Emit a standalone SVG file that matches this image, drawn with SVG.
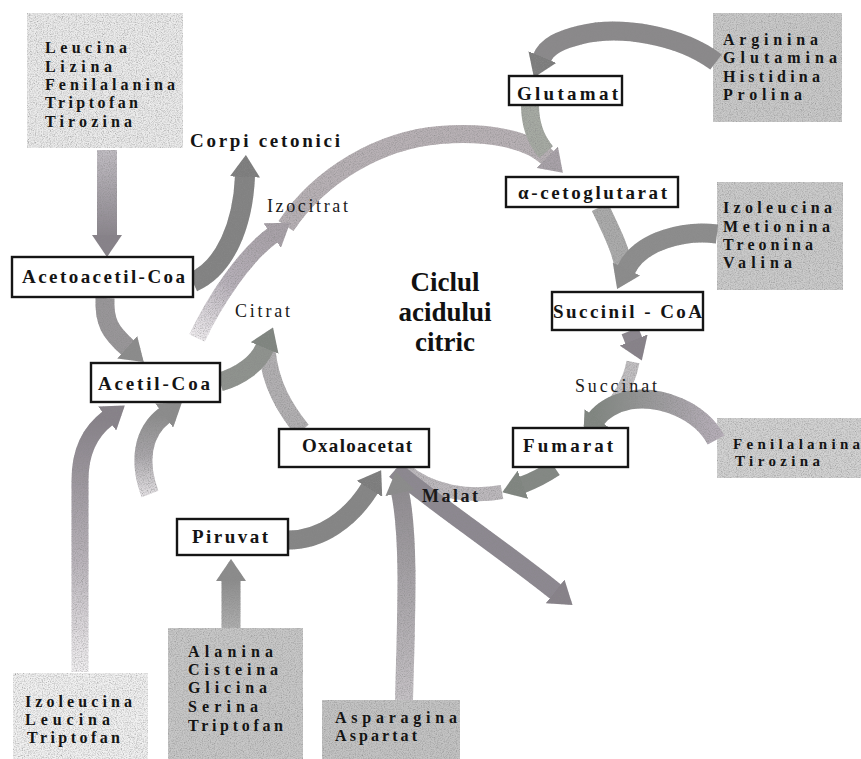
<svg xmlns="http://www.w3.org/2000/svg" width="861" height="759" viewBox="0 0 861 759">
  <style>
    .node rect { fill: #ffffff; stroke: #151515; stroke-width: 2.4; }
    .lbl { font-family: "Liberation Serif", "Times New Roman", serif; font-weight: bold; font-size: 19px; fill: #141414; }
    .lst { font-family: "Liberation Serif", "Times New Roman", serif; font-weight: bold; font-size: 16px; fill: #141414; }
    .lst-sm { font-size: 15px; }
    .stage { font-family: "Liberation Serif", "Times New Roman", serif; font-size: 18px; fill: #1a1a1a; }
    .title { font-family: "Liberation Serif", "Times New Roman", serif; font-weight: bold; font-size: 27px; fill: #111111; text-anchor: middle; }
    .band { fill: none; stroke-linecap: butt; stroke-linejoin: round; }
  </style>
  <defs>
    <!-- halftone-like speckle used on the shaded shapes -->
    <filter id="grain" x="-5%" y="-5%" width="110%" height="110%">
      <feTurbulence type="fractalNoise" baseFrequency="0.85" numOctaves="2" seed="7" result="noise"/>
      <feColorMatrix in="noise" type="matrix" values="0 0 0 0 0.25  0 0 0 0 0.25  0 0 0 0 0.25  0.9 0.9 0.9 0 -1.2" result="spots"/>
      <feComposite in="spots" in2="SourceAlpha" operator="in" result="clipped"/>
      <feMerge><feMergeNode in="SourceGraphic"/><feMergeNode in="clipped"/></feMerge>
    </filter>

    <!-- arrowheads: path ends at the head base, head extends 22px -->
    <marker id="hDark" viewBox="0 0 22 30" refX="1" refY="15" markerWidth="22" markerHeight="30" markerUnits="userSpaceOnUse" orient="auto"><path d="M0,0 L22,15 L0,30 Z" fill="#7b7b7b"/></marker>
    <marker id="hMid" viewBox="0 0 22 30" refX="1" refY="15" markerWidth="22" markerHeight="30" markerUnits="userSpaceOnUse" orient="auto"><path d="M0,0 L22,15 L0,30 Z" fill="#8c8c8c"/></marker>
    <marker id="hPurple" viewBox="0 0 22 30" refX="1" refY="15" markerWidth="22" markerHeight="30" markerUnits="userSpaceOnUse" orient="auto"><path d="M0,0 L22,15 L0,30 Z" fill="#878189"/></marker>
    <marker id="hGreen" viewBox="0 0 22 30" refX="1" refY="15" markerWidth="22" markerHeight="30" markerUnits="userSpaceOnUse" orient="auto"><path d="M0,0 L22,15 L0,30 Z" fill="#7f857f"/></marker>
    <marker id="hLight" viewBox="0 0 22 30" refX="1" refY="15" markerWidth="22" markerHeight="30" markerUnits="userSpaceOnUse" orient="auto"><path d="M0,0 L22,15 L0,30 Z" fill="#a9a2a9"/></marker>

    <linearGradient id="gLeuc" gradientUnits="userSpaceOnUse" x1="0" y1="150" x2="0" y2="240"><stop offset="0" stop-color="#c2bec4"/><stop offset="1" stop-color="#878189"/></linearGradient>
    <linearGradient id="gIzoL" gradientUnits="userSpaceOnUse" x1="0" y1="672" x2="0" y2="420"><stop offset="0" stop-color="#f3f1f3"/><stop offset="0.45" stop-color="#b9b3ba"/><stop offset="1" stop-color="#878189"/></linearGradient>
    <linearGradient id="gPir" gradientUnits="userSpaceOnUse" x1="0" y1="495" x2="0" y2="415"><stop offset="0" stop-color="#e4e1e4"/><stop offset="0.5" stop-color="#a9a6aa"/><stop offset="1" stop-color="#8c8c8c"/></linearGradient>
    <linearGradient id="gAla" gradientUnits="userSpaceOnUse" x1="0" y1="628" x2="0" y2="580"><stop offset="0" stop-color="#b0b0b0"/><stop offset="1" stop-color="#8c8c8c"/></linearGradient>
    <linearGradient id="gCit" gradientUnits="userSpaceOnUse" x1="197" y1="338" x2="272" y2="236"><stop offset="0" stop-color="#efecef"/><stop offset="0.5" stop-color="#b8b1ba"/><stop offset="1" stop-color="#a9a2a9"/></linearGradient>
    <linearGradient id="gAsp" gradientUnits="userSpaceOnUse" x1="0" y1="700" x2="0" y2="490"><stop offset="0" stop-color="#c6c2c6"/><stop offset="1" stop-color="#8f8b90"/></linearGradient>
    <linearGradient id="gFen" gradientUnits="userSpaceOnUse" x1="716" y1="0" x2="594" y2="0"><stop offset="0" stop-color="#b6aeb8"/><stop offset="1" stop-color="#7f857f"/></linearGradient>
  </defs>

  <rect x="0" y="0" width="861" height="759" fill="#ffffff"/>

  <!-- shaded source panels (amino acid groups) -->
  <g id="sources" filter="url(#grain)">
    <rect id="src-leucina" x="27" y="13" width="156" height="135" fill="#ebebeb"/>
    <rect id="src-arginina" x="713" y="13" width="129" height="109" fill="#c9c9c9"/>
    <rect id="src-izoleucina-r" x="717" y="182" width="126" height="108" fill="#cbcbcb"/>
    <rect id="src-fenilalanina" x="717" y="418" width="144" height="60" fill="#d2d2d2"/>
    <rect id="src-izoleucina-l" x="13" y="673" width="135" height="86" fill="#f1f1f1"/>
    <rect id="src-alanina" x="168" y="628" width="135" height="131" fill="#c7c7c7"/>
    <rect id="src-asparagina" x="322" y="700" width="138" height="59" fill="#c3c3c3"/>
  </g>

  <!-- connectors -->
  <g id="connectors" filter="url(#grain)">
    <!-- citric acid cycle ring segments -->
    <path class="band" d="M286,226 C320,175 380,140 440,135 C490,131 530,140 548,158" stroke="#b8b1b5" stroke-width="18" marker-end="url(#hLight)"/>
    <path class="band" d="M530,105 C530,124 536,140 546,152" stroke="#a6aaa3" stroke-width="18"/>
    <path class="band" d="M600,207 C612,232 622,252 624,270" stroke="#ababab" stroke-width="18"/>
    <path class="band" d="M633,362 C628,390 610,410 588,430" stroke="#c2c0c2" stroke-width="13"/>
    <path class="band" d="M502,492 C470,498 430,492 405,470" stroke="#bdb9bd" stroke-width="14"/>
    <path class="band" d="M302,430 C286,410 270,385 267,350" stroke="#b2b0b2" stroke-width="17"/>
    <path class="band" d="M197,338 C215,300 245,255 273,235" stroke="url(#gCit)" stroke-width="17" marker-end="url(#hLight)"/>

    <!-- feeding and leaving pathways -->
    <path class="band" d="M107,150 L107,236" stroke="url(#gLeuc)" stroke-width="20" marker-end="url(#hPurple)"/>
    <path class="band" d="M105,298 C104,322 110,332 128,348" stroke="#999699" stroke-width="19" marker-end="url(#hMid)"/>
    <path class="band" d="M193,282 C225,268 243,225 245,176" stroke="#828282" stroke-width="20" marker-end="url(#hDark)"/>
    <path class="band" d="M220,382 C240,376 258,364 265,347" stroke="#8f938e" stroke-width="19" marker-end="url(#hGreen)"/>
    <path class="band" d="M716,62 C680,35 620,25 580,35 C560,40 547,46 542,58" stroke="#8b898b" stroke-width="19" marker-end="url(#hDark)"/>
    <path class="band" d="M717,234 C685,230 640,240 626,270" stroke="#8d8d8d" stroke-width="19" marker-end="url(#hMid)"/>
    <path class="band" d="M630,331 L634,341" stroke="#8c868f" stroke-width="18" marker-end="url(#hPurple)"/>
    <path class="band" d="M716,440 C700,410 660,395 630,400 C614,403 602,411 596,419" stroke="url(#gFen)" stroke-width="19" marker-end="url(#hGreen)"/>
    <path class="band" d="M555,468 C540,478 530,482 522,485" stroke="#838883" stroke-width="17" marker-end="url(#hGreen)"/>
    <path class="band" d="M395,470 C430,500 490,540 556,592" stroke="#8d8891" stroke-width="18" marker-end="url(#hPurple)"/>
    <path class="band" d="M289,540 C320,540 350,520 370,488" stroke="#858585" stroke-width="19" marker-end="url(#hDark)"/>
    <path class="band" d="M404,700 C406,620 410,540 400,492" stroke="url(#gAsp)" stroke-width="18" marker-end="url(#hMid)"/>
    <path class="band" d="M80,672 L80,480 C80,450 92,430 108,418" stroke="url(#gIzoL)" stroke-width="17" marker-end="url(#hPurple)"/>
    <path class="band" d="M150,494 C138,462 142,432 165,415" stroke="url(#gPir)" stroke-width="18" marker-end="url(#hMid)"/>
    <path class="band" d="M231,628 L231,580" stroke="url(#gAla)" stroke-width="19" marker-end="url(#hMid)"/>
  </g>

  <!-- amino acid lists -->
  <g id="list-leucina" class="lst">
    <text x="45" y="53" textLength="82">Leucina</text>
    <text x="45" y="72" textLength="67">Lizina</text>
    <text x="45" y="90" textLength="130">Fenilalanina</text>
    <text x="45" y="108" textLength="93">Triptofan</text>
    <text x="45" y="127" textLength="87">Tirozina</text>
  </g>
  <g id="list-arginina" class="lst">
    <text x="723" y="45" textLength="95">Arginina</text>
    <text x="723" y="63" textLength="114">Glutamina</text>
    <text x="723" y="82" textLength="97">Histidina</text>
    <text x="723" y="100" textLength="79">Prolina</text>
  </g>
  <g id="list-izoleucina-r" class="lst">
    <text x="723" y="213" textLength="109">Izoleucina</text>
    <text x="723" y="232" textLength="107">Metionina</text>
    <text x="723" y="250" textLength="90">Treonina</text>
    <text x="723" y="268" textLength="69">Valina</text>
  </g>
  <g id="list-fenilalanina" class="lst lst-sm">
    <text x="733" y="449" textLength="127">Fenilalanina</text>
    <text x="735" y="466" textLength="85">Tirozina</text>
  </g>
  <g id="list-izoleucina-l" class="lst">
    <text x="25" y="707" textLength="107">Izoleucina</text>
    <text x="25" y="725" textLength="85">Leucina</text>
    <text x="27" y="743" textLength="93">Triptofan</text>
  </g>
  <g id="list-alanina" class="lst">
    <text x="188" y="657" textLength="85">Alanina</text>
    <text x="188" y="675" textLength="90">Cisteina</text>
    <text x="188" y="693" textLength="79">Glicina</text>
    <text x="188" y="712" textLength="70">Serina</text>
    <text x="188" y="731" textLength="95">Triptofan</text>
  </g>
  <g id="list-asparagina" class="lst">
    <text x="335" y="723" textLength="122">Asparagina</text>
    <text x="335" y="741" textLength="82">Aspartat</text>
  </g>

  <!-- intermediates (boxed) -->
  <g id="n-glutamat" class="node"><rect x="509" y="76" width="113" height="29"/><text class="lbl" x="517" y="100" textLength="101">Glutamat</text></g>
  <g id="n-cetoglutarat" class="node"><rect x="506" y="177" width="172" height="30"/><text class="lbl" x="518" y="199" textLength="149">α-cetoglutarat</text></g>
  <g id="n-succinilcoa" class="node"><rect x="552" y="292" width="151" height="38"/><text class="lbl" x="553" y="318" textLength="149">Succinil - CoA</text></g>
  <g id="n-fumarat" class="node"><rect x="513" y="428" width="115" height="39"/><text class="lbl" x="523" y="452" textLength="90">Fumarat</text></g>
  <g id="n-oxaloacetat" class="node"><rect x="279" y="429" width="150" height="38"/><text class="lbl" x="302" y="452" textLength="110">Oxaloacetat</text></g>
  <g id="n-piruvat" class="node"><rect x="177" y="519" width="111" height="36"/><text class="lbl" x="192" y="543" textLength="76">Piruvat</text></g>
  <g id="n-acetilcoa" class="node"><rect x="91" y="363" width="129" height="39"/><text class="lbl" x="98" y="390" textLength="112">Acetil-Coa</text></g>
  <g id="n-acetoacetilcoa" class="node"><rect x="12" y="257" width="181" height="40"/><text class="lbl" x="22" y="283" textLength="163">Acetoacetil-Coa</text></g>

  <!-- unboxed intermediates and products -->
  <g id="n-corpi"><text class="lbl" x="190" y="147" textLength="150">Corpi cetonici</text></g>
  <g id="n-izocitrat"><text class="stage" x="267" y="212" textLength="81">Izocitrat</text></g>
  <g id="n-citrat"><text class="stage" x="235" y="317" textLength="55">Citrat</text></g>
  <g id="n-succinat"><text class="stage" x="575" y="392" textLength="82">Succinat</text></g>
  <g id="n-malat"><text class="stage" x="422" y="502" textLength="56" font-weight="bold">Malat</text></g>

  <!-- cycle title -->
  <g id="title">
    <text class="title" x="445" y="291">Ciclul</text>
    <text class="title" x="445" y="321">acidului</text>
    <text class="title" x="445" y="351">citric</text>
  </g>
</svg>
